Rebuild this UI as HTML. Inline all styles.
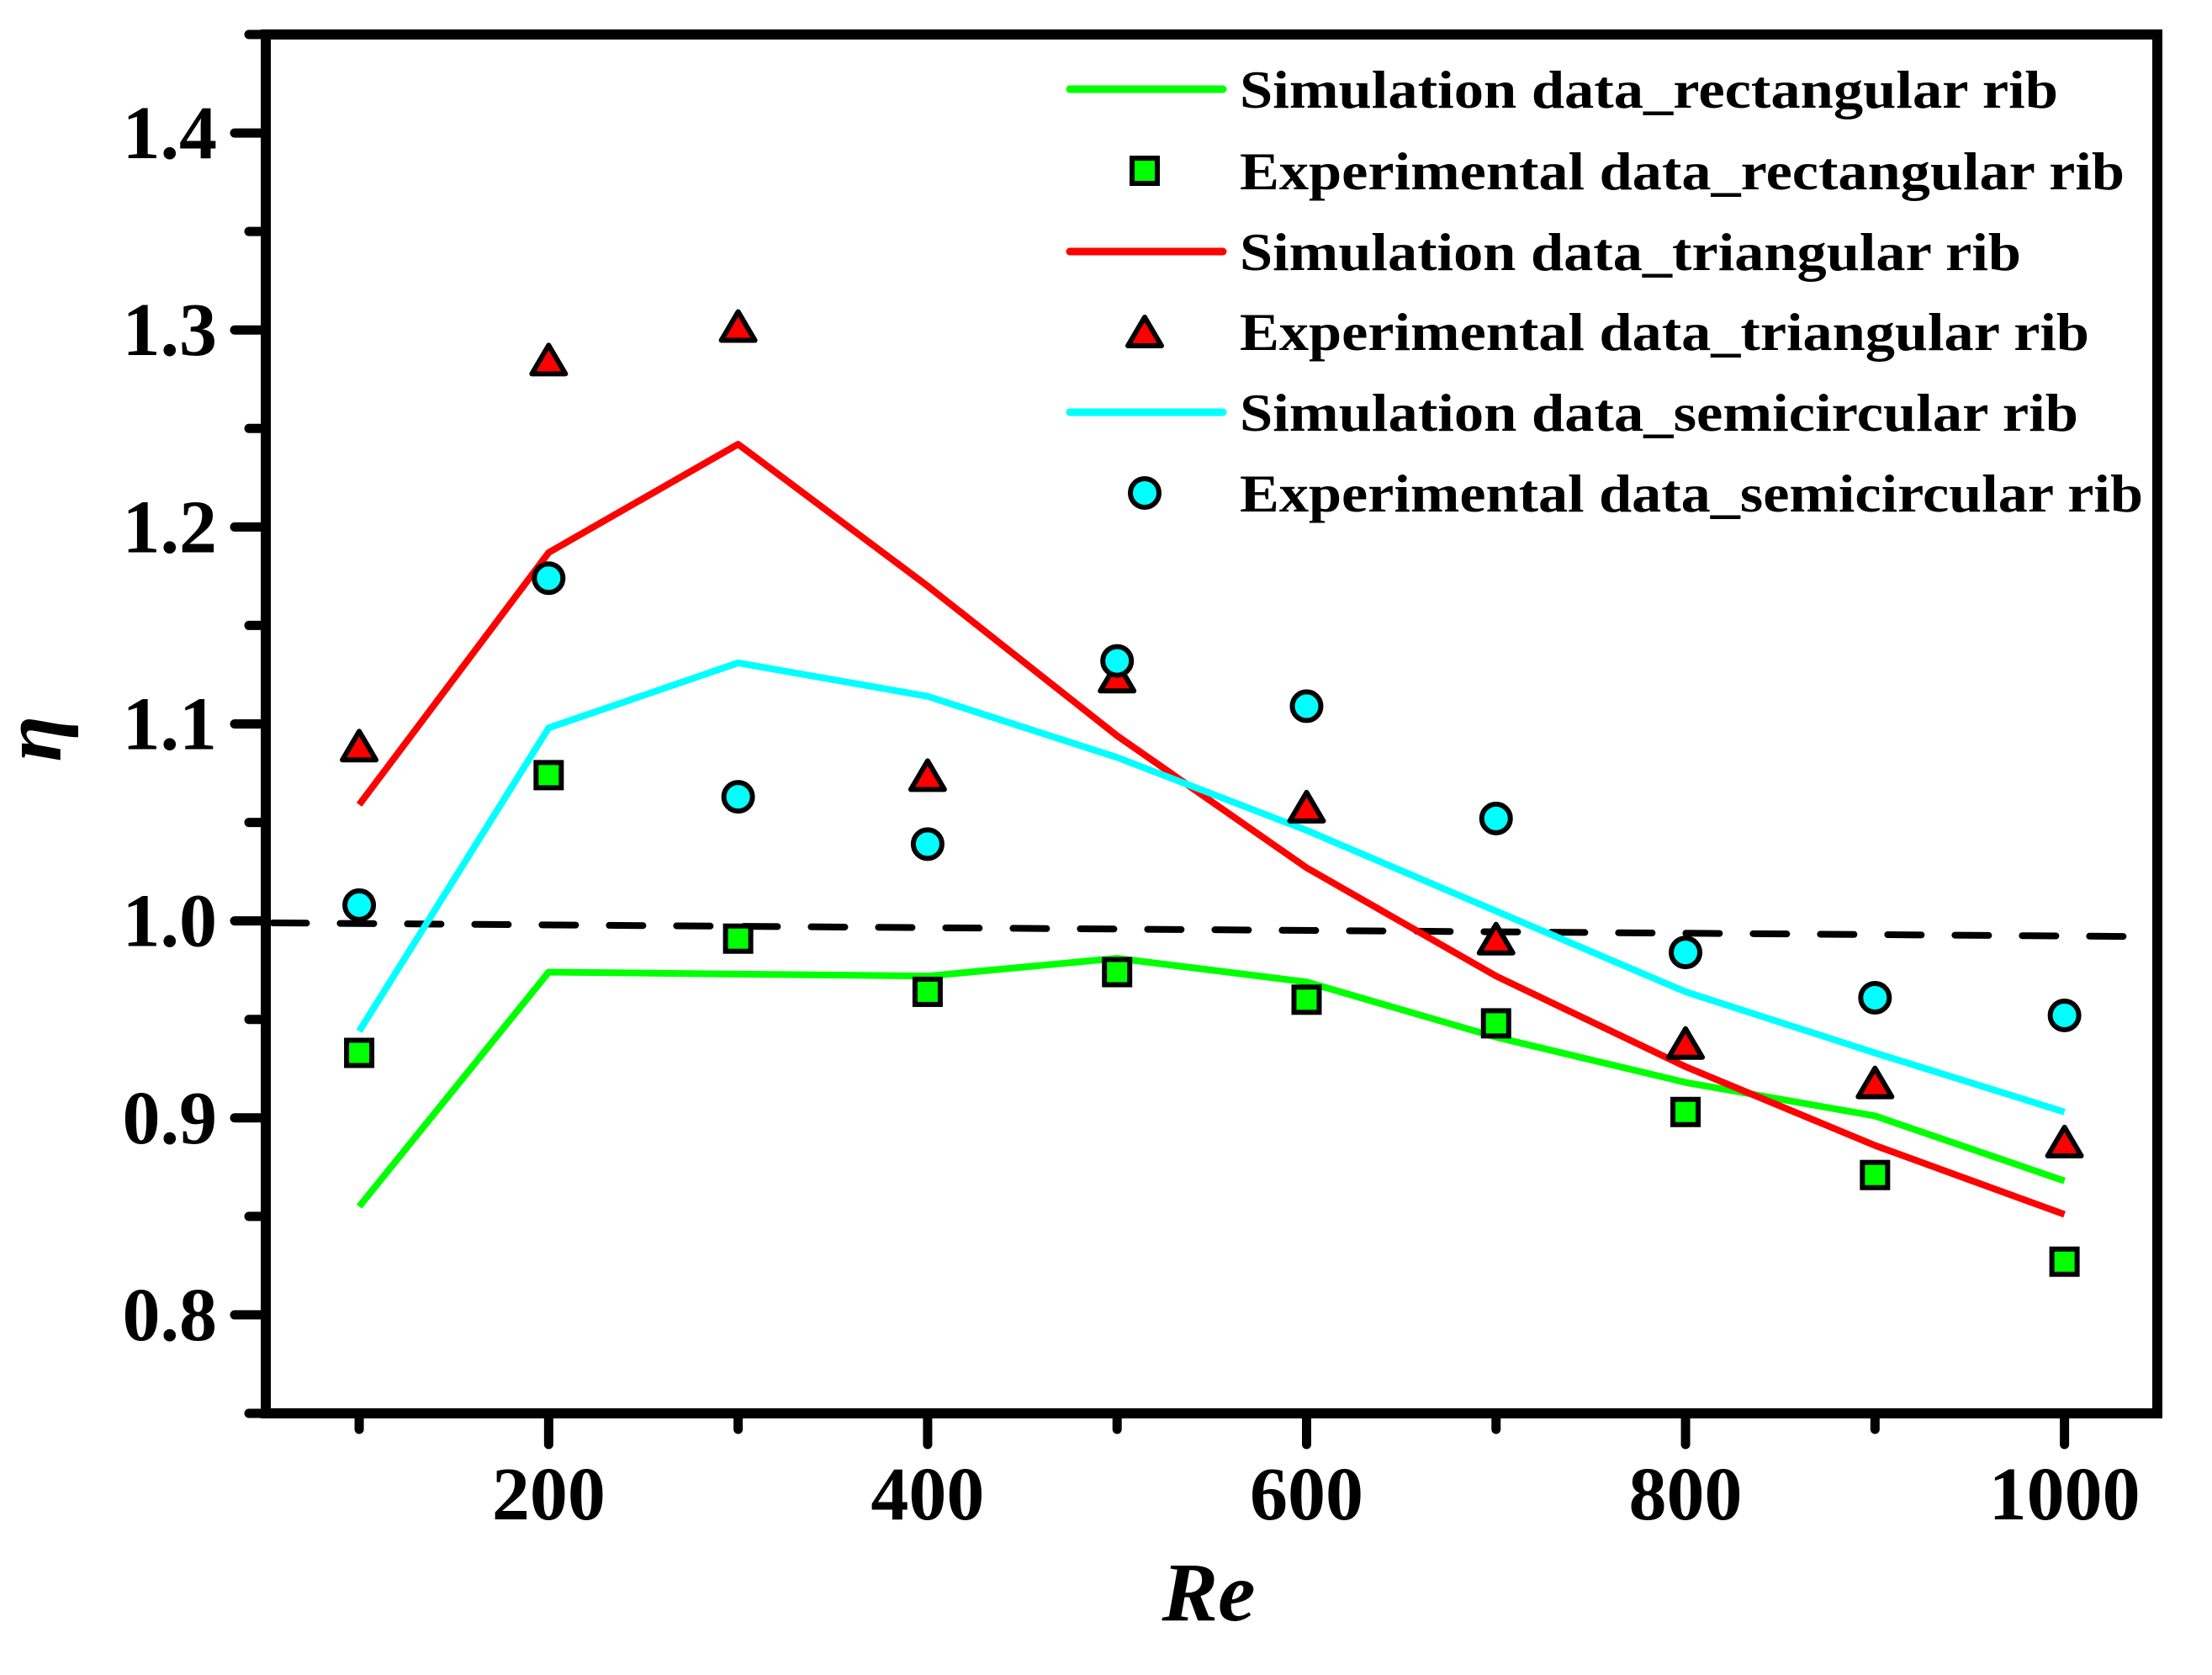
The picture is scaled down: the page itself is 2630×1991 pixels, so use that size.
<!DOCTYPE html>
<html><head><meta charset="utf-8"><style>
html,body{margin:0;padding:0;background:#fff;}
svg{display:block;}
text{font-family:"Liberation Serif",serif;font-weight:bold;fill:#000;}
</style></head><body>
<svg id="chart" width="2630" height="1991" viewBox="0 0 2630 1991" xmlns="http://www.w3.org/2000/svg">
<g id="plot"></g>
</svg>
<script>
const reValues = [100,200,300,400,500,600,700,800,900,1000];
const simRect = [0.855,0.974,0.973,0.972,0.981,0.969,0.941,0.918,0.901,0.868];
const expRect = [0.933,1.074,0.991,0.964,0.974,0.960,0.948,0.903,0.871,0.827];
const simTri = [1.059,1.187,1.242,1.170,1.094,1.027,0.972,0.926,0.886,0.851];
const expTri = [1.089,1.285,1.302,1.074,1.124,1.058,0.991,0.938,0.918,0.888];
const simSemi = [0.944,1.098,1.131,1.114,1.083,1.046,1.005,0.964,0.933,0.903];
const expSemi = [1.008,1.174,1.063,1.039,1.132,1.109,1.052,0.984,0.961,0.952];
const refLineRe = [50,1050];
const refLineVal = [0.999,0.992];
const xTickLabels = ['200','400','600','800','1000'];
const xTickVals = [200,400,600,800,1000];
const xMinorVals = [100,300,500,700,900];
const yTickLabels = ['0.8','0.9','1.0','1.1','1.2','1.3','1.4'];
const yTickVals = [0.8,0.9,1.0,1.1,1.2,1.3,1.4];
const yMinorVals = [0.75,0.85,0.95,1.05,1.15,1.25,1.35,1.45];
const legendLabels = ['Simulation data_rectangular rib','Experimental data_rectangular rib','Simulation data_triangular rib','Experimental data_triangular rib','Simulation data_semicircular rib','Experimental data_semicircular rib'];

const L=316,R=2565,T=41,B=1680;
const xMin=50.7,xMax=1049,yMin=0.75,yMax=1.45;
function xs(v){return L+(v-xMin)/(xMax-xMin)*(R-L);}
function ys(v){return B-(v-yMin)/(yMax-yMin)*(B-T);}
const NS='http://www.w3.org/2000/svg';
const g=document.getElementById('plot');
function mk(tag,attrs,parent){const e=document.createElementNS(NS,tag);for(const k in attrs)e.setAttribute(k,attrs[k]);(parent||g).appendChild(e);return e;}

// dashed reference line
let dl=mk('line',{x1:xs(refLineRe[0])+10,y1:ys(refLineVal[0]),x2:R,y2:ys(refLineVal[1]),stroke:'#000','stroke-width':8,'stroke-dasharray':'40 40','stroke-linecap':'round'});



function simLine(vals,color,name){
  const pts=reValues.map((r,i)=>xs(r)+','+ys(vals[i])).join(' ');
  const p=mk('polyline',{points:pts,fill:'none',stroke:color,'stroke-width':8,'stroke-linejoin':'round'});
  
  
}
simLine(simRect,'#00ff00','sim-line-rectangular');
simLine(simTri,'#ff0000','sim-line-triangular');
simLine(simSemi,'#00ffff','sim-line-semicircular');

function square(cx,cy,parent){return mk('rect',{x:cx-15,y:cy-15,width:30,height:30,fill:'#00ff00',stroke:'#000','stroke-width':6},parent);}
function tri(cx,cy,parent){return mk('polygon',{points:(cx)+','+(cy-17)+' '+(cx+20)+','+(cy+17)+' '+(cx-20)+','+(cy+17),fill:'#ff0000',stroke:'#000','stroke-width':6,'stroke-linejoin':'round'},parent);}
function circ(cx,cy,parent){return mk('circle',{cx:cx,cy:cy,r:17,fill:'#00ffff',stroke:'#000','stroke-width':6},parent);}

reValues.forEach((r,i)=>{
  let a=square(xs(r),ys(expRect[i]));
  
  
  let b=tri(xs(r),ys(expTri[i]));
  
  
  let c=circ(xs(r),ys(expSemi[i]));
  
  
});

// axes frame
let fr=mk('rect',{x:L,y:T,width:R-L,height:B-T,fill:'none',stroke:'#000','stroke-width':12});



// y ticks
yTickVals.forEach((v,i)=>{
  let t=mk('line',{x1:L-37,y1:ys(v),x2:L,y2:ys(v),stroke:'#000','stroke-width':11,'stroke-linecap':'round'});
  
  
  let tx=mk('text',{x:258,y:ys(v)+30,'text-anchor':'end','font-size':90});
  tx.textContent=yTickLabels[i];
  
  
});
yMinorVals.forEach(v=>{
  let t=mk('line',{x1:L-20,y1:ys(v),x2:L,y2:ys(v),stroke:'#000','stroke-width':11,'stroke-linecap':'round'});
  
  
});
// x ticks
xTickVals.forEach((v,i)=>{
  let t=mk('line',{x1:xs(v),y1:B,x2:xs(v),y2:B+37,stroke:'#000','stroke-width':11,'stroke-linecap':'round'});
  
  
  let tx=mk('text',{x:xs(v),y:1806,'text-anchor':'middle','font-size':90});
  tx.textContent=xTickLabels[i];
  
  
});
xMinorVals.forEach(v=>{
  let t=mk('line',{x1:xs(v),y1:B,x2:xs(v),y2:B+19,stroke:'#000','stroke-width':11,'stroke-linecap':'round'});
  
  
});

// axis titles
let xt=mk('text',{x:1437,y:1926,'text-anchor':'middle','font-size':100,'font-style':'italic'});
xt.textContent='Re';


let yt=mk('text',{x:0,y:0,'text-anchor':'middle','font-size':100,'font-style':'italic',transform:'translate(72,878) rotate(-90)'});
yt.textContent='η';



// legend
const rowY=[106,203,299,394,490,586];
const rowW=[973,1052,929,1010,997,1074];
const lg=mk('g',{});


const lineColors=['#00ff00','#ff0000','#00ffff'];
legendLabels.forEach((lab,i)=>{
  const y=rowY[i];
  let sym;
  if(i%2===0){
    sym=mk('line',{x1:1272,y1:y,x2:1454,y2:y,stroke:lineColors[i/2],'stroke-width':9,'stroke-linecap':'round'},lg);
  } else if(i===1){ sym=square(1361,y,lg);} else if(i===3){ sym=tri(1361,y,lg);} else { sym=circ(1361,y,lg);}
  
  
  let tx=mk('text',{x:1474,y:y+22,'font-size':64,textLength:rowW[i],lengthAdjust:'spacingAndGlyphs'},lg);
  tx.textContent=lab;
  
  
});
</script>
</body></html>
